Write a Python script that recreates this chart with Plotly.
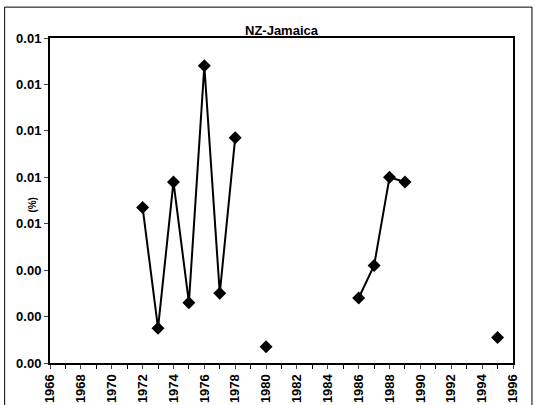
import plotly.graph_objects as go

# NZ-Jamaica share (%), gaps where no value is reported
years = [1972, 1973, 1974, 1975, 1976, 1977, 1978, 1979, 1980, 1981,
         1986, 1987, 1988, 1989, 1990, 1995]
share = [0.0067, 0.0015, 0.0078, 0.0026, 0.0128, 0.0030, 0.0097, None, 0.0007, None,
         0.0028, 0.0042, 0.0080, 0.0078, None, 0.0011]

title = "NZ-Jamaica"
y_title = "(%)"

font = "Liberation Sans, Arial, sans-serif"

fig = go.Figure()
fig.add_trace(
    go.Scatter(
        x=years,
        y=share,
        mode="lines+markers",
        connectgaps=False,
        line=dict(color="black", width=2),
        marker=dict(symbol="diamond", size=10, color="black"),
        showlegend=False,
    )
)

fig.update_layout(
    width=535,
    height=405,
    margin=dict(l=50, r=22, t=38, b=42),
    paper_bgcolor="white",
    plot_bgcolor="white",
    font=dict(family=font, size=13, color="black"),
    title=dict(
        text="<b>" + title + "</b>",
        x=0.5,
        xref="paper",
        xanchor="center",
        y=1.0,
        yref="paper",
        yanchor="bottom",
        pad=dict(b=3),
        font=dict(size=13),
    ),
    xaxis=dict(
        range=[1966, 1996],
        dtick=2,
        tick0=1966,
        tickangle=-90,
        ticks="outside",
        ticklen=4,
        showgrid=False,
        zeroline=False,
        showline=True,
        linecolor="black",
        linewidth=2,
        mirror=True,
        automargin=False,
        tickfont=dict(size=13, weight="bold"),
        minor=dict(dtick=1, ticks="outside", ticklen=4, tickcolor="black", showgrid=False),
    ),
    yaxis=dict(
        range=[0, 0.014],
        dtick=0.002,
        tickformat=".2f",
        ticks="outside",
        ticklen=4,
        showgrid=False,
        zeroline=False,
        showline=True,
        linecolor="black",
        linewidth=2,
        mirror=True,
        automargin=False,
        tickfont=dict(size=13, weight="bold"),
    ),
)

# y-axis title sits between the tick labels, as in the source chart
fig.add_annotation(
    text="<b>" + y_title + "</b>",
    xref="paper",
    yref="paper",
    x=-0.056,
    y=0.486,
    textangle=-90,
    showarrow=False,
    font=dict(size=10),
)

# chart-area frame
fig.add_shape(
    type="rect",
    xref="paper",
    yref="paper",
    x0=-0.098,
    x1=1.041,
    y0=-0.14,
    y1=1.095,
    line=dict(color="black", width=1),
    fillcolor="rgba(0,0,0,0)",
    layer="below",
)

fig.write_html(
    "out.html",
    config={"displayModeBar": False},
    post_script="document.body.style.margin='0';",
)
